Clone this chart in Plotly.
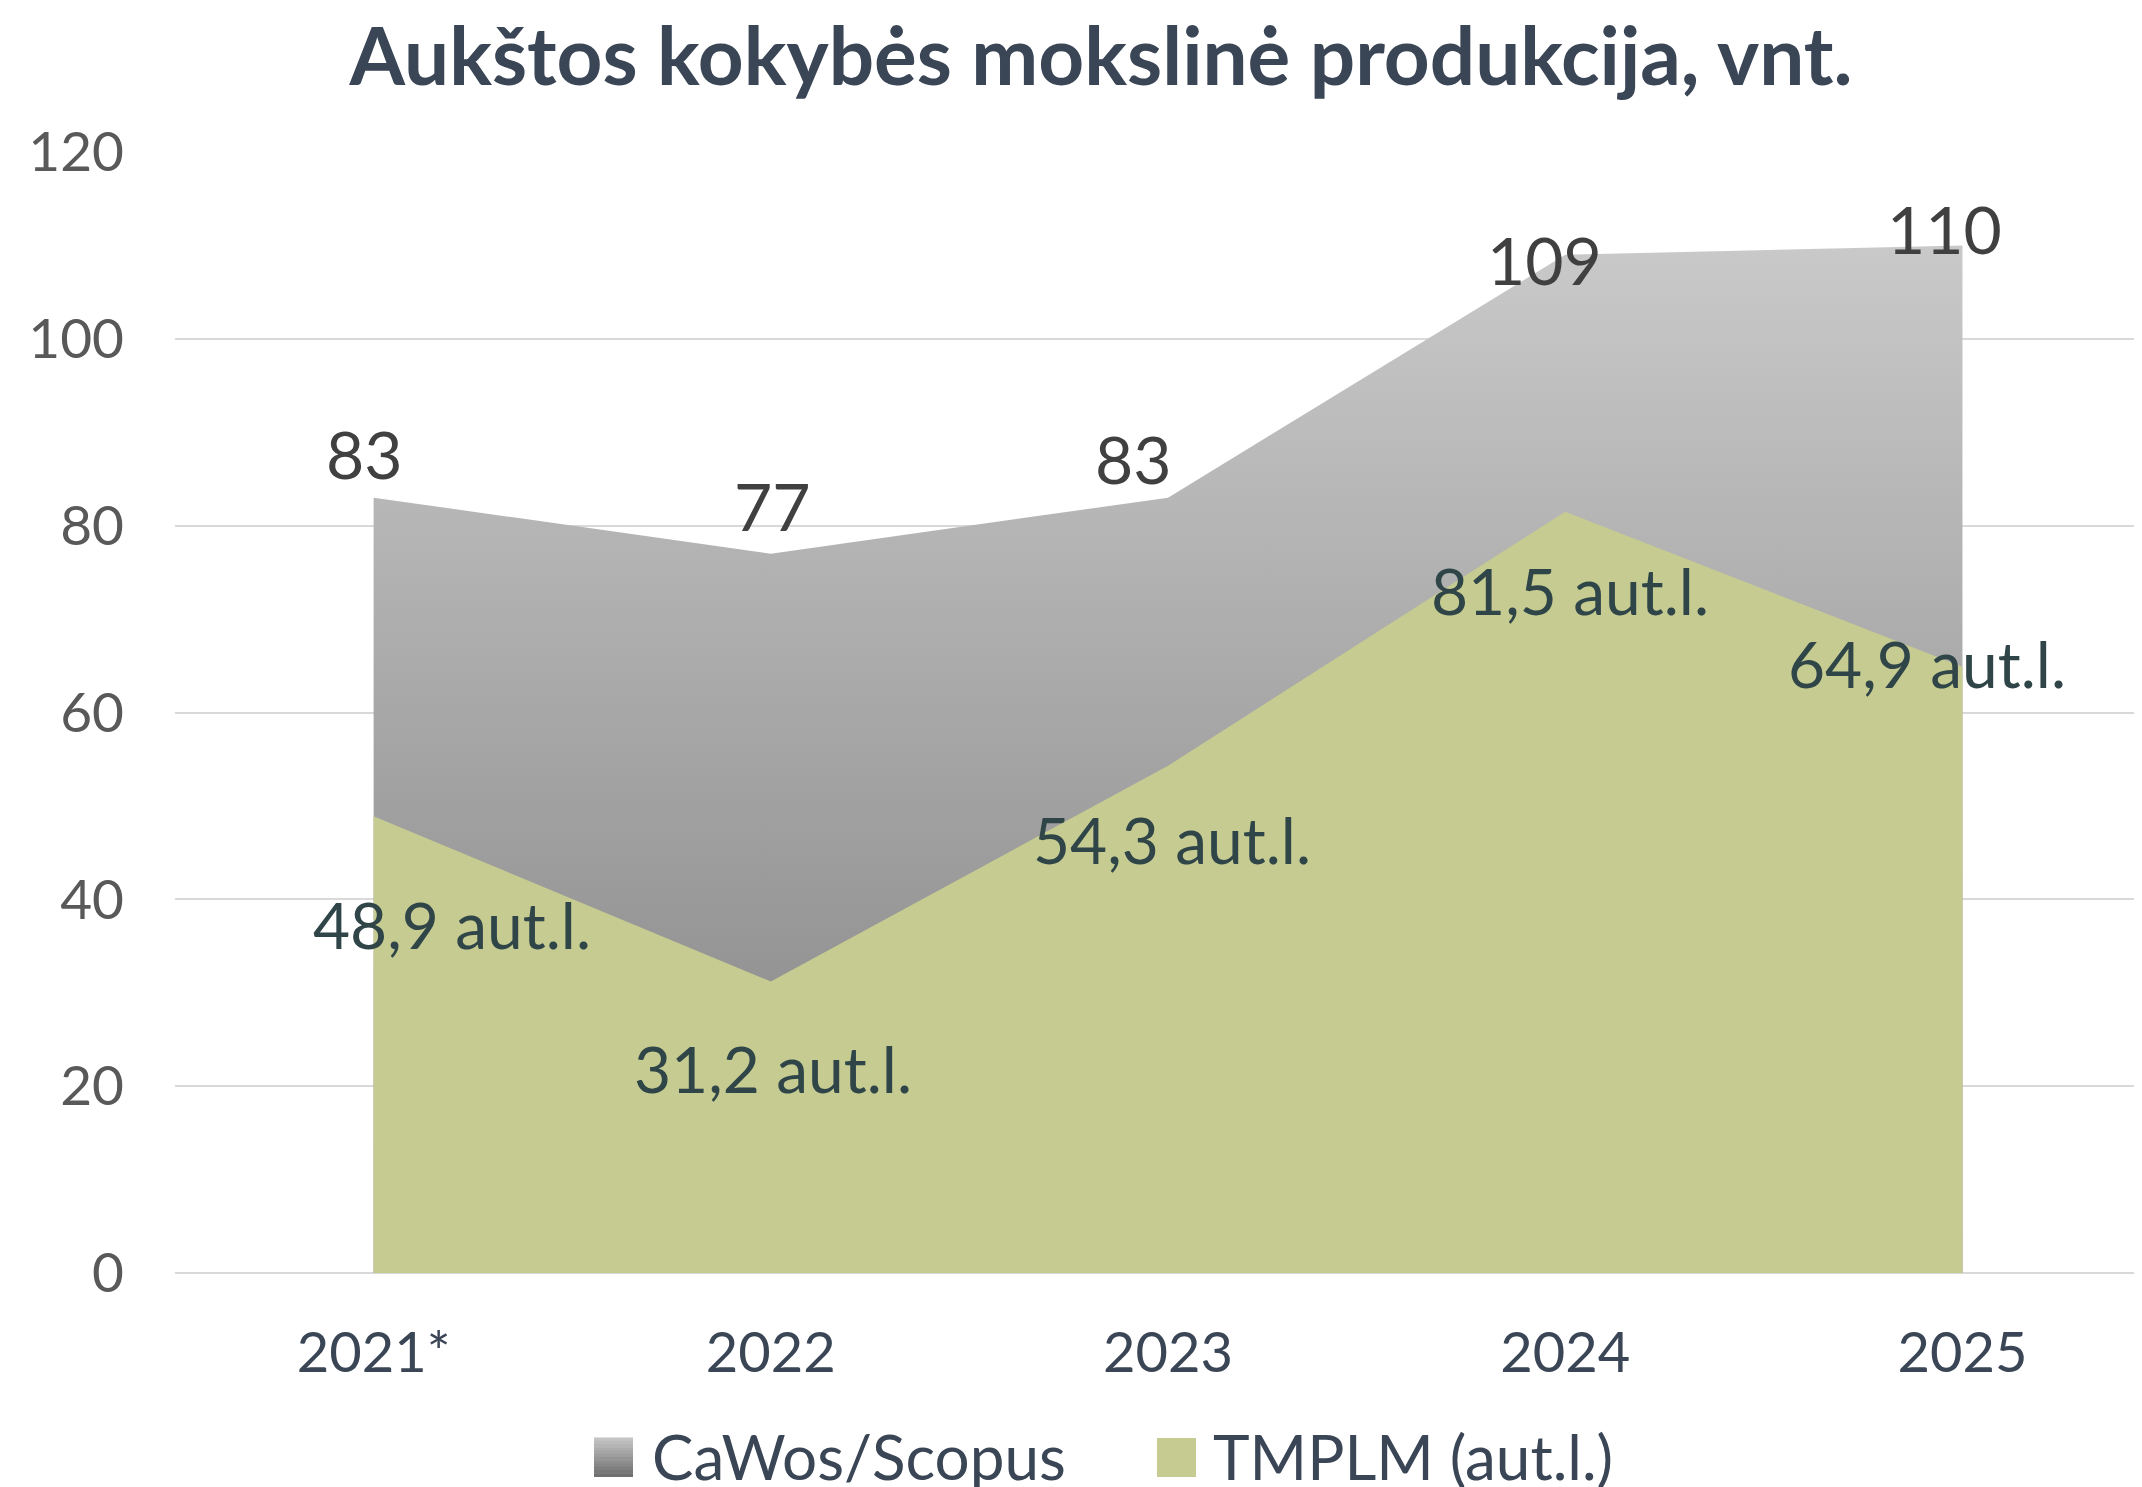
import plotly.graph_objects as go

# ---- data ----
categories = ["2021*", "2022", "2023", "2024", "2025"]
cawos_scopus = [83, 77, 83, 109, 110]
tmplm = [48.9, 31.2, 54.3, 81.5, 64.9]
tmplm_labels = ["48,9 aut.l.", "31,2 aut.l.", "54,3 aut.l.", "81,5 aut.l.", "64,9 aut.l."]
y_ticks = [0, 20, 40, 60, 80, 100, 120]

# ---- styling ----
W, H = 2142, 1487
OFF = 8  # page body margin offset
L, R, T, B = 175 - OFF, OFF, 152 - OFF, 214 + OFF
FONT = "Lato"
TITLE_COLOR = "#3a4555"
AXIS_COLOR = "#3a4555"
YTICK_COLOR = "#595959"
GRAY_LABEL = "#404040"
GREEN_LABEL = "#2f4548"
GREEN = "#c5cb91"
GRID = "#d9d9d9"

# label pixel offsets (dx right, dy up) relative to the data point
gray_off = [(-9, 44), (2, 48), (-35, 39), (-21, -5), (-18, 17)]
green_off = [(78, -108), (2, -87), (4, -74), (5, -79), (-35, 3)]

x_idx = list(range(len(categories)))

fig = go.Figure()

fig.add_trace(go.Scatter(
    x=x_idx, y=cawos_scopus, mode="none", fill="tozeroy",
    fillgradient=dict(type="vertical", start=0, stop=110,
                      colorscale=[[0, "#7f7f7f"], [1, "#c9c9c9"]]),
    name="CaWos/Scopus", showlegend=False, hoverinfo="skip",
))
fig.add_trace(go.Scatter(
    x=x_idx, y=tmplm, mode="none", fill="tozeroy", fillcolor=GREEN,
    name="TMPLM (aut.l.)", showlegend=False, hoverinfo="skip",
))

annotations = []
for i, v in enumerate(cawos_scopus):
    dx, dy = gray_off[i]
    annotations.append(dict(
        x=x_idx[i], y=v, xref="x", yref="y", text=str(v), showarrow=False,
        xanchor="center", yanchor="middle", xshift=dx, yshift=dy,
        font=dict(family=FONT, size=66, color=GRAY_LABEL)))
for i, v in enumerate(tmplm):
    dx, dy = green_off[i]
    annotations.append(dict(
        x=x_idx[i], y=v, xref="x", yref="y", text=tmplm_labels[i], showarrow=False,
        xanchor="center", yanchor="middle", xshift=dx, yshift=dy,
        font=dict(family=FONT, size=64, color=GREEN_LABEL)))

# custom legend (page pixel geometry -> paper coords)
PW, PH = W - L - R, H - T - B
def px(x):
    return (x - OFF - L) / PW
def py(y):
    return (H - B - (y - OFF)) / PH

shapes = []
sw_x0, sw_x1, sw_y0, sw_y1 = 594, 633, 1438, 1477
steps = 12
top_c, bot_c = 0xc8, 0x6c
for k in range(steps):
    c = round(top_c + (bot_c - top_c) * (k + 0.5) / steps)
    ya = sw_y0 + (sw_y1 - sw_y0) * k / steps
    yb = sw_y0 + (sw_y1 - sw_y0) * (k + 1) / steps
    shapes.append(dict(type="rect", xref="paper", yref="paper",
                       x0=px(sw_x0), x1=px(sw_x1), y0=py(yb), y1=py(ya) + 0.0005,
                       fillcolor=f"rgb({c},{c},{c})", line=dict(width=0), layer="above"))
shapes.append(dict(type="rect", xref="paper", yref="paper",
                   x0=px(1157), x1=px(1196), y0=py(sw_y1), y1=py(sw_y0),
                   fillcolor=GREEN, line=dict(width=0), layer="above"))
annotations.append(dict(x=px(650), y=py(1456), xref="paper", yref="paper",
                        text="CaWos/Scopus", showarrow=False, xanchor="left", yanchor="middle",
                        font=dict(family=FONT, size=62, color=AXIS_COLOR)))
annotations.append(dict(x=px(1211), y=py(1456), xref="paper", yref="paper",
                        text="TMPLM (aut.l.)", showarrow=False, xanchor="left", yanchor="middle",
                        font=dict(family=FONT, size=62, color=AXIS_COLOR)))

fig.update_layout(
    width=W, height=H,
    margin=dict(l=L, r=R, t=T, b=B, pad=0),
    paper_bgcolor="white", plot_bgcolor="white",
    title=dict(text="<b>Aukštos kokybės mokslinė produkcija, vnt.</b>",
               x=(1101 - OFF) / W, xanchor="center", xref="container",
               y=1 - 49 / H, yanchor="middle", yref="container",
               font=dict(family=FONT, size=80, color=TITLE_COLOR)),
    xaxis=dict(range=[-0.5, 4.452], tickmode="array", tickvals=x_idx, ticktext=categories,
               showgrid=False, zeroline=False, showline=False, ticks="",
               tickfont=dict(family=FONT, size=56, color=AXIS_COLOR),
               ticklabelstandoff=42),
    yaxis=dict(range=[0, 120], tickmode="array", tickvals=y_ticks,
               showgrid=True, gridcolor=GRID, gridwidth=2,
               zeroline=True, zerolinecolor=GRID, zerolinewidth=2,
               showline=False, ticks="",
               tickfont=dict(family=FONT, size=55, color=YTICK_COLOR),
               ticklabelstandoff=50),
    annotations=annotations,
    shapes=shapes,
    showlegend=False,
)

fig.write_html("out.html")
